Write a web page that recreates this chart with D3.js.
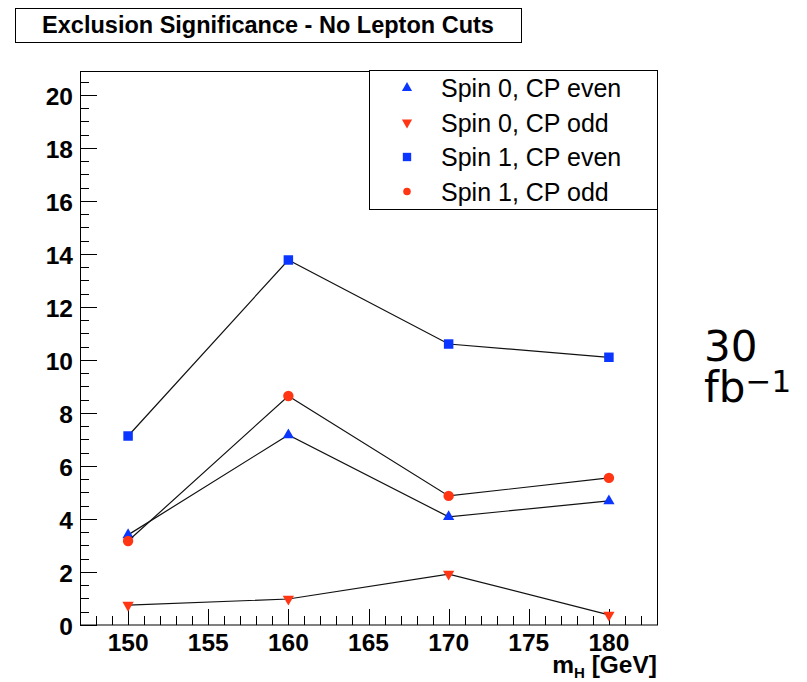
<!DOCTYPE html>
<html>
<head>
<meta charset="utf-8">
<script src="https://cdn.jsdelivr.net/npm/d3@7"></script>
<style>
  body { margin: 0; background: #fff; }
  svg { display: block; }
  text { font-family: "Liberation Sans", Arial, Helvetica, sans-serif; }
</style>
</head>
<body>
<div id="chart"></div>
<script>
// masses (GeV) and significances
const masses = [150, 160, 170, 180];
const spin0Even = [3.4, 7.17, 4.08, 4.68];
const spin0Odd = [0.75, 0.98, 1.92, 0.38];
const spin1Even = [7.13, 13.77, 10.6, 10.1];
const spin1Odd = [3.17, 8.64, 4.87, 5.55];
const seriesNames = ["Spin 0, CP even", "Spin 0, CP odd", "Spin 1, CP even", "Spin 1, CP odd"];
const xTicks = [150, 155, 160, 165, 170, 175, 180];
const yTicks = [0, 2, 4, 6, 8, 10, 12, 14, 16, 18, 20];

const blue = "#0a36ff", red = "#ff3514";

const width = 807, height = 682;
const margin = { top: 71, right: 150, bottom: 57, left: 80 };
const innerWidth = width - margin.left - margin.right,
      innerHeight = height - margin.top - margin.bottom;

const svg = d3.select("#chart").append("svg")
    .attr("width", width)
    .attr("height", height);

// title box
svg.append("rect")
    .attr("x", 15.5).attr("y", 8.5)
    .attr("width", 506).attr("height", 34)
    .attr("fill", "#fff").attr("stroke", "#000");
svg.append("text")
    .attr("x", 268).attr("y", 33)
    .attr("text-anchor", "middle")
    .style("font-size", "23.5px").style("font-weight", "bold")
    .text("Exclusion Significance - No Lepton Cuts");

const g = svg.append("g")
    .attr("transform", "translate(" + margin.left + "," + margin.top + ")");

const xScale = d3.scaleLinear().domain([147, 183]).range([0, innerWidth]);
const yScale = d3.scaleLinear().domain([0, 20.9]).range([innerHeight, 0]);

// frame
g.append("rect")
    .attr("x", 0.5).attr("y", 0.5)
    .attr("width", innerWidth).attr("height", innerHeight - 0.5)
    .attr("fill", "none").attr("stroke", "#000");

// y ticks (major + minor, drawn inward)
const yMinor = d3.range(0, 20.9, 0.5);
g.selectAll(".ytick").data(yMinor).enter().append("line")
    .attr("x1", 0).attr("x2", d => (d % 2 === 0) ? 17 : 9)
    .attr("y1", d => Math.round(yScale(d)) + 0.5)
    .attr("y2", d => Math.round(yScale(d)) + 0.5)
    .attr("stroke", "#000");
g.selectAll(".ylab").data(yTicks).enter().append("text")
    .attr("x", -7)
    .attr("y", d => yScale(d) + 10)
    .attr("text-anchor", "end")
    .style("font-size", "24.5px").style("font-weight", "bold")
    .text(d => d);

// x ticks
const xMinor = d3.range(148, 183, 1);
g.selectAll(".xtick").data(xMinor).enter().append("line")
    .attr("x1", d => Math.round(xScale(d)) + 0.5)
    .attr("x2", d => Math.round(xScale(d)) + 0.5)
    .attr("y1", innerHeight)
    .attr("y2", d => innerHeight - ((d % 5 === 0) ? 16 : 9))
    .attr("stroke", "#000");
g.selectAll(".xlab").data(xTicks).enter().append("text")
    .attr("x", d => xScale(d))
    .attr("y", innerHeight + 26)
    .attr("text-anchor", "middle")
    .style("font-size", "24.5px").style("font-weight", "bold")
    .text(d => d);

const xl = g.append("text")
    .attr("x", innerWidth)
    .attr("y", innerHeight + 48)
    .attr("text-anchor", "end")
    .style("font-size", "24.5px").style("font-weight", "bold");
xl.append("tspan").text("m");
xl.append("tspan").attr("dy", 5).style("font-size", "15px").text("H");
xl.append("tspan").attr("dy", -5).text(" [GeV]");

// series
const series = [
    { name: seriesNames[0], values: spin0Even, color: blue, shape: "up" },
    { name: seriesNames[1], values: spin0Odd, color: red, shape: "down" },
    { name: seriesNames[2], values: spin1Even, color: blue, shape: "square" },
    { name: seriesNames[3], values: spin1Odd, color: red, shape: "circle" }
];

const symbols = {
    up: d3.symbol().type(d3.symbolTriangle).size(55),
    down: d3.symbol().type(d3.symbolTriangle).size(55),
    square: d3.symbol().type(d3.symbolSquare).size(90),
    circle: d3.symbol().type(d3.symbolCircle).size(85)
};

const line = d3.line()
    .x(d => xScale(d[0]))
    .y(d => yScale(d[1]));

series.forEach(s => {
    const pts = masses.map((m, i) => [m, s.values[i]]);
    g.append("path")
        .attr("d", line(pts))
        .attr("fill", "none")
        .attr("stroke", "#111")
        .attr("stroke-width", 1.2);
    g.selectAll(null).data(pts).enter().append("path")
        .attr("d", symbols[s.shape])
        .attr("transform", d => "translate(" + xScale(d[0]) + "," + yScale(d[1]) + ")" + (s.shape === "down" ? " rotate(180)" : ""))
        .attr("fill", s.color);
});

// legend
const leg = svg.append("g").attr("transform", "translate(369,70)");
leg.append("rect")
    .attr("x", 0.5).attr("y", 0.5)
    .attr("width", 288).attr("height", 139)
    .attr("fill", "#fff").attr("stroke", "#000");
const rows = leg.selectAll(".row").data(series).enter().append("g")
    .attr("transform", (d, i) => "translate(0," + (18 + i * 34.5) + ")");
rows.append("path")
    .attr("d", d => symbols[d.shape].size(d.shape === "square" ? 70 : 45)())
    .attr("transform", d => "translate(38,0)" + (d.shape === "down" ? " rotate(180)" : ""))
    .attr("fill", d => d.color);
rows.append("text")
    .attr("x", 72).attr("y", 9)
    .style("font-size", "25px")
    .text(d => d.name);

// luminosity label
const lum = svg.append("g").attr("transform", "translate(704,0)");
lum.append("text")
    .attr("x", 0).attr("y", 361)
    .style("font-family", "'DejaVu Sans', sans-serif")
    .style("font-size", "42px")
    .text("30");
const fb = lum.append("text")
    .attr("x", 0).attr("y", 402)
    .style("font-family", "'DejaVu Sans', sans-serif")
    .style("font-size", "42px");
fb.append("tspan").text("fb");
fb.append("tspan").attr("dy", -10).style("font-size", "31px").text("\u22121");
</script>
</body>
</html>
